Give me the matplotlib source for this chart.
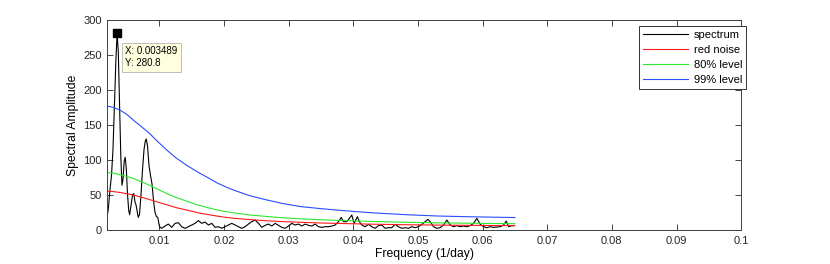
import matplotlib
matplotlib.use("Agg")
import matplotlib.pyplot as plt

plt.rcParams["font.family"] = ["Liberation Sans", "DejaVu Sans"]

# spectrum
spec_freq = [0.00200, 0.00215, 0.00239, 0.00262, 0.00285, 0.00308, 0.00331, 0.003489,
             0.00367, 0.00386, 0.00406, 0.00424, 0.00440, 0.00458, 0.00474, 0.00491,
             0.00509, 0.00528, 0.00543, 0.00563, 0.00587, 0.00607, 0.00625, 0.00641,
             0.00656, 0.00676, 0.00695, 0.00718, 0.00741, 0.00765, 0.00785, 0.00800,
             0.00819, 0.00842, 0.00865, 0.00888, 0.00912, 0.00935, 0.00958, 0.00978,
             0.00997, 0.01012,
             0.01038, 0.01090, 0.01141, 0.01193, 0.01245, 0.01296, 0.01348, 0.01399,
             0.01451, 0.01503, 0.01554, 0.01606, 0.01657, 0.01709, 0.01761, 0.01812,
             0.01864, 0.01915, 0.01967, 0.02019, 0.02070, 0.02122, 0.02173, 0.02225,
             0.02277, 0.02328, 0.02380, 0.02431, 0.02483, 0.02535, 0.02586, 0.02638,
             0.02689, 0.02741, 0.02793, 0.02844, 0.02896, 0.02947, 0.02999, 0.03051,
             0.03102, 0.03154, 0.03205, 0.03257, 0.03309, 0.03360, 0.03412, 0.03463,
             0.03515, 0.03567, 0.03618, 0.03670, 0.03721, 0.03773, 0.03814, 0.03850,
             0.03900, 0.03941, 0.03978, 0.04014, 0.04065, 0.04096, 0.04132, 0.04184,
             0.04236, 0.04287, 0.04339, 0.04390, 0.04442, 0.04494, 0.04545, 0.04597,
             0.04648, 0.04700, 0.04752, 0.04803, 0.04855, 0.04906, 0.04958, 0.05010,
             0.05061, 0.05113, 0.05154, 0.05190, 0.05242, 0.05293, 0.05345, 0.05397,
             0.05448, 0.05500, 0.05551, 0.05603, 0.05655, 0.05706, 0.05758, 0.05809,
             0.05861, 0.05913, 0.05964, 0.06016, 0.06067, 0.06119, 0.06171, 0.06222,
             0.06274, 0.06325, 0.06367, 0.06403, 0.06454, 0.06480]
spec_amp = [22, 32, 58, 78, 115, 180, 245, 280.8,
            255, 185, 105, 64, 72, 98, 104, 88,
            52, 28, 22, 35, 50, 52, 40, 36,
            28, 18, 22, 50, 85, 115, 127, 130,
            120, 92, 78, 66, 42, 25, 19, 18,
            8, 4,
            2.4, 5.7, 8.5, 3.8, 9.5, 10.4, 4.7, 2.4,
            4.7, 7.1, 9.5, 13.3, 9.5, 11.4, 7.1, 9.5,
            3.8, 4.7, 2.4, 4.7, 7.1, 9.5, 7.1, 4.7,
            2.4, 4.7, 8.5, 11.9, 14.2, 9.5, 3.8, 6.6,
            8.5, 5.7, 9.5, 6.6, 3.8, 2.4, 5.7, 9.5,
            7.1, 8.5, 5.7, 8.5, 6.6, 5.7, 8.5, 4.7,
            3.8, 4.7, 4.7, 5.7, 7.1, 11.9, 18, 11.9,
            11.9, 16.6, 21.4, 9.5, 19, 11.9, 7.1, 4.7,
            8.1, 4.7, 2.4, 6.2, 7.1, 2.4, 3.3, 3.3,
            8.1, 4.7, 2.4, 3.3, 2.4, 4.7, 3.3, 4.7,
            8.1, 11.9, 15.2, 11.9, 4.7, 2.4, 3.3, 7.1,
            14.2, 7.1, 4.7, 6.2, 4.7, 5.7, 4.7, 6.2,
            9.5, 16.6, 8.1, 4.7, 3.3, 4.7, 3.8, 4.3,
            4.7, 7.1, 12.8, 4.7, 6.2, 6.2]

# red noise and significance levels
level_freq = [0.002, 0.003, 0.004, 0.005, 0.006, 0.0072, 0.0085, 0.0098, 0.0112, 0.0126,
              0.014, 0.0152, 0.0163, 0.0177, 0.019, 0.0202, 0.0215, 0.024, 0.0266, 0.029,
              0.0318, 0.035, 0.0387, 0.043, 0.0483, 0.053, 0.0586, 0.065]
red_noise = [55.5, 54.8, 53.5, 51.8, 50, 47, 43.5, 39.8, 36, 32,
             29, 26.5, 24, 21.8, 19.8, 18.2, 16.8, 14.8, 13.2, 12,
             11, 10, 9.2, 8.3, 7.5, 7, 6.6, 6.2]
level_80 = [82, 81, 79, 76.5, 73.6, 69, 64, 58, 52, 46.5,
            42, 38, 35, 31.5, 28.5, 26.5, 24.5, 21.5, 19.3, 17.5,
            16, 14.6, 13.4, 12.2, 11, 10.2, 9.6, 9]
level_99 = [177, 175, 171, 165, 157, 148, 138, 126, 114, 103,
            94, 87, 81, 74, 67, 62, 57, 49, 43, 38,
            33.5, 30.5, 27.5, 24.5, 21.8, 20, 18.8, 17.8]

x_ticks = [0.01, 0.02, 0.03, 0.04, 0.05, 0.06, 0.07, 0.08, 0.09, 0.1]
x_ticklabels = ["0.01", "0.02", "0.03", "0.04", "0.05", "0.06", "0.07", "0.08", "0.09", "0.1"]
y_ticks = [0, 50, 100, 150, 200, 250, 300]

fig = plt.figure(figsize=(8.3, 2.64), dpi=100)
ax = fig.add_axes([0.1295, 0.1288, 0.7635, 0.7954])

ax.plot(spec_freq, spec_amp, color="black", lw=0.8, label="spectrum")
ax.plot(level_freq, red_noise, color="#ff1a1a", lw=0.8, label="red noise")
ax.plot(level_freq, level_80, color="#2ee62e", lw=0.8, label="80% level")
ax.plot(level_freq, level_99, color="#2a4dff", lw=0.8, label="99% level")

ax.set_xlim(0.002, 0.1)
ax.set_ylim(0, 300)
ax.set_xticks(x_ticks)
ax.set_xticklabels(x_ticklabels)
ax.set_yticks(y_ticks)
ax.tick_params(direction="in", top=True, right=True, length=4, width=0.6,
               labelsize=8, colors="0.15", pad=4)
for sp in ax.spines.values():
    sp.set_linewidth(0.7)
    sp.set_color("0.25")

ax.set_xlabel("Frequency (1/day)", fontsize=8.7, labelpad=2)
ax.set_ylabel("Spectral Amplitude", fontsize=8.7, labelpad=3)

leg = ax.legend(loc="upper right", fontsize=8, fancybox=False, framealpha=1,
                edgecolor="0.2", bbox_to_anchor=(746 / 830, 1 - 26 / 264),
                bbox_transform=fig.transFigure, borderaxespad=0, handlelength=4.0,
                labelspacing=0.45, borderpad=0.35, handletextpad=0.55)
leg.get_frame().set_linewidth(0.7)

# data tip at the main peak
peak_f = spec_freq[spec_amp.index(max(spec_amp))]
peak_a = max(spec_amp)
ax.plot([peak_f], [peak_a], marker="s", color="black", markersize=6, zorder=6)
ax.annotate(f"X: {peak_f:.6f}\nY: {peak_a:.1f}", xy=(peak_f, peak_a),
            xytext=(6, -9), textcoords="offset points", fontsize=7,
            va="top", ha="left", linespacing=1.3,
            bbox=dict(boxstyle="square,pad=0.35", fc="#ffffe0", ec="0.7", lw=0.6))

fig.savefig("out.png", dpi=100)
